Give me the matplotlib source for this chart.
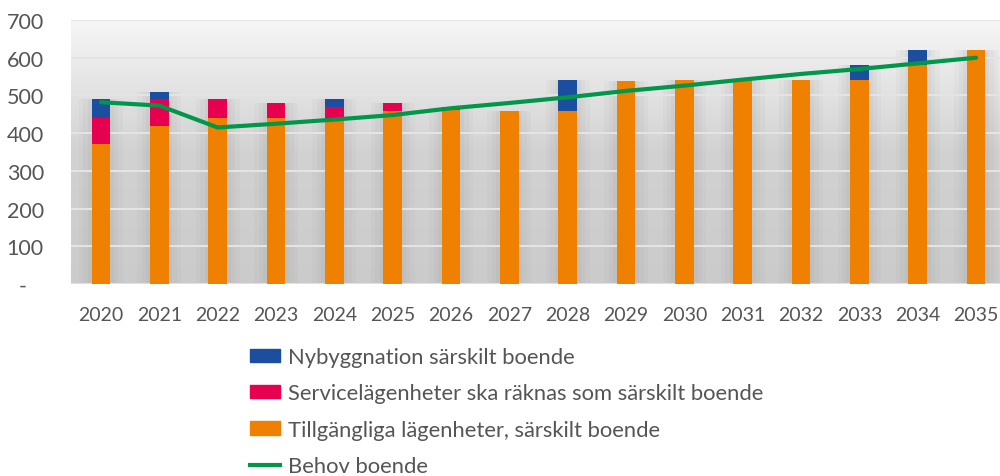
import numpy as np
import matplotlib
matplotlib.use("Agg")
import matplotlib.pyplot as plt
from matplotlib.patches import Patch
from matplotlib.lines import Line2D

years = ["2020", "2021", "2022", "2023", "2024", "2025", "2026", "2027",
         "2028", "2029", "2030", "2031", "2032", "2033", "2034", "2035"]
tillgangliga = [370, 420, 440, 440, 440, 460, 462, 460, 460, 538, 540, 544, 540, 540, 580, 620]
service = [70, 70, 50, 40, 30, 20, 6, 0, 0, 0, 0, 0, 0, 0, 0, 0]
nybyggnation = [50, 20, 0, 0, 20, 0, 0, 0, 80, 0, 0, 0, 0, 40, 40, 0]
behov = [482, 473, 415, 425, 436, 448, 466, 480, 495, 512, 526, 542, 557, 570, 585, 600]

labels = ["Nybyggnation särskilt boende",
          "Servicelägenheter ska räknas som särskilt boende",
          "Tillgängliga lägenheter, särskilt boende",
          "Behov boende"]

c_blue = "#1B4E9F"
c_red = "#E6004F"
c_orange = "#F08000"
c_green = "#00974A"
c_text = "#555555"

plt.rcParams['font.family'] = ['Lato', 'DejaVu Sans']

fig = plt.figure(figsize=(10, 4.77), dpi=100)
fig.patch.set_facecolor("white")
ax = fig.add_axes([0.071, 1 - 285 / 477, 0.929, (285 - 21) / 477])

x = np.arange(len(years))
xl, xr = -0.514, len(years) - 1 + 0.41
ax.set_xlim(xl, xr)
ax.set_ylim(0, 700)

# background gradient (decorative shading)
grad = np.linspace(0, 1, 256)[:, None]
cmap = matplotlib.colors.LinearSegmentedColormap.from_list("bg", ["#cbcbcb", "#d2d2d2", "#f6f6f6"])
ax.imshow(grad, cmap=cmap, aspect="auto", extent=[xl, xr, 0, 700],
          origin="lower", zorder=0)

totals = np.array(tillgangliga) + np.array(service) + np.array(nybyggnation)
for w, a in [(0.75, 0.05), (0.6, 0.06), (0.45, 0.07)]:
    ax.bar(x, totals, width=w, color="#888888", alpha=a, zorder=1, linewidth=0)

for yv in range(100, 800, 100):
    ax.axhline(yv, color="#e4e4e4", lw=1.5, zorder=1.5)
ax.axhline(0, color="#e0e0e0", lw=1.5, zorder=1.5)

bw = 0.32
ax.bar(x, tillgangliga, width=bw, color=c_orange, zorder=2, linewidth=0)
ax.bar(x, service, width=bw, bottom=tillgangliga, color=c_red, zorder=2, linewidth=0)
ax.bar(x, nybyggnation, width=bw, bottom=np.array(tillgangliga) + np.array(service),
       color=c_blue, zorder=2, linewidth=0)
ax.plot(x, behov, color=c_green, lw=3, zorder=3, solid_capstyle="round")

ax.set_xticks(x)
ax.set_xticklabels(years)
ax.set_yticks(range(0, 800, 100))
ax.set_yticklabels(["-   "] + [str(v) for v in range(100, 800, 100)])
ax.tick_params(axis="both", length=0, colors=c_text)
ax.tick_params(axis="y", pad=19.5, labelsize=15.5)
ax.tick_params(axis="x", pad=16, labelsize=14)
for s in ax.spines.values():
    s.set_visible(False)

handles = [Patch(color=c_blue), Patch(color=c_red), Patch(color=c_orange),
           Line2D([0], [0], color=c_green, lw=3)]
leg = fig.legend(handles, labels, loc="upper left", bbox_to_anchor=(0.230, 0.312),
                 frameon=False, fontsize=15.8, labelcolor=c_text, handlelength=1.4,
                 handleheight=0.55, handletextpad=0.35, labelspacing=0.75)

fig.savefig("out.png", dpi=100, facecolor="white")
